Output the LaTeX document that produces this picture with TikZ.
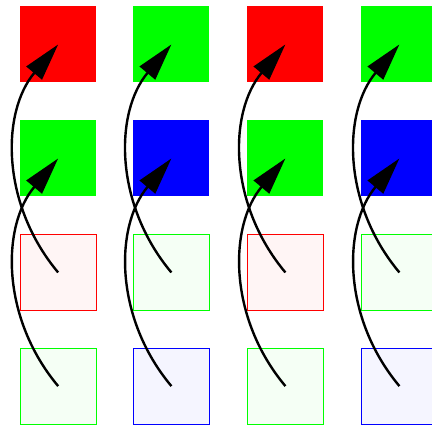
\documentclass[tikz,border=0pt]{standalone}
\usetikzlibrary{arrows.meta}
\tikzset{
  cell/.style={minimum size=2cm, inner sep=0pt, outer sep=0pt},
  solid/.style={cell, fill=#1},
  faint/.style={cell, draw=#1, fill=#1!4, line width=0.75pt},
  lift/.style={line width=1.8pt, -{Triangle[length=28pt,width=15pt]}}
}
\begin{document}
\begin{tikzpicture}
  \useasboundingbox (0,0) rectangle (11.368,11.21);
  % top row
  \node[solid=red]   (a1) at (1.53,10.04) {};
  \node[solid=green] (b1) at (4.51,10.04) {};
  \node[solid=red]   (c1) at (7.51,10.04) {};
  \node[solid=green] (d1) at (10.51,10.04) {};
  % second row
  \node[solid=green] (a2) at (1.53,7.04) {};
  \node[solid=blue]  (b2) at (4.51,7.04) {};
  \node[solid=green] (c2) at (7.51,7.04) {};
  \node[solid=blue]  (d2) at (10.51,7.04) {};
  % third row
  \node[faint=red]   (a3) at (1.53,4.04) {};
  \node[faint=green] (b3) at (4.51,4.04) {};
  \node[faint=red]   (c3) at (7.51,4.04) {};
  \node[faint=green] (d3) at (10.51,4.04) {};
  % bottom row
  \node[faint=green] (a4) at (1.53,1.05) {};
  \node[faint=blue]  (b4) at (4.51,1.05) {};
  \node[faint=green] (c4) at (7.51,1.05) {};
  \node[faint=blue]  (d4) at (10.51,1.05) {};
  % arrows
  \draw[lift] (a3.center) to[bend left=40] (a1.center);
  \draw[lift] (a4.center) to[bend left=40] (a2.center);
  \draw[lift] (b3.center) to[bend left=40] (b1.center);
  \draw[lift] (b4.center) to[bend left=40] (b2.center);
  \draw[lift] (c3.center) to[bend left=40] (c1.center);
  \draw[lift] (c4.center) to[bend left=40] (c2.center);
  \draw[lift] (d3.center) to[bend left=40] (d1.center);
  \draw[lift] (d4.center) to[bend left=40] (d2.center);
\end{tikzpicture}
\end{document}
